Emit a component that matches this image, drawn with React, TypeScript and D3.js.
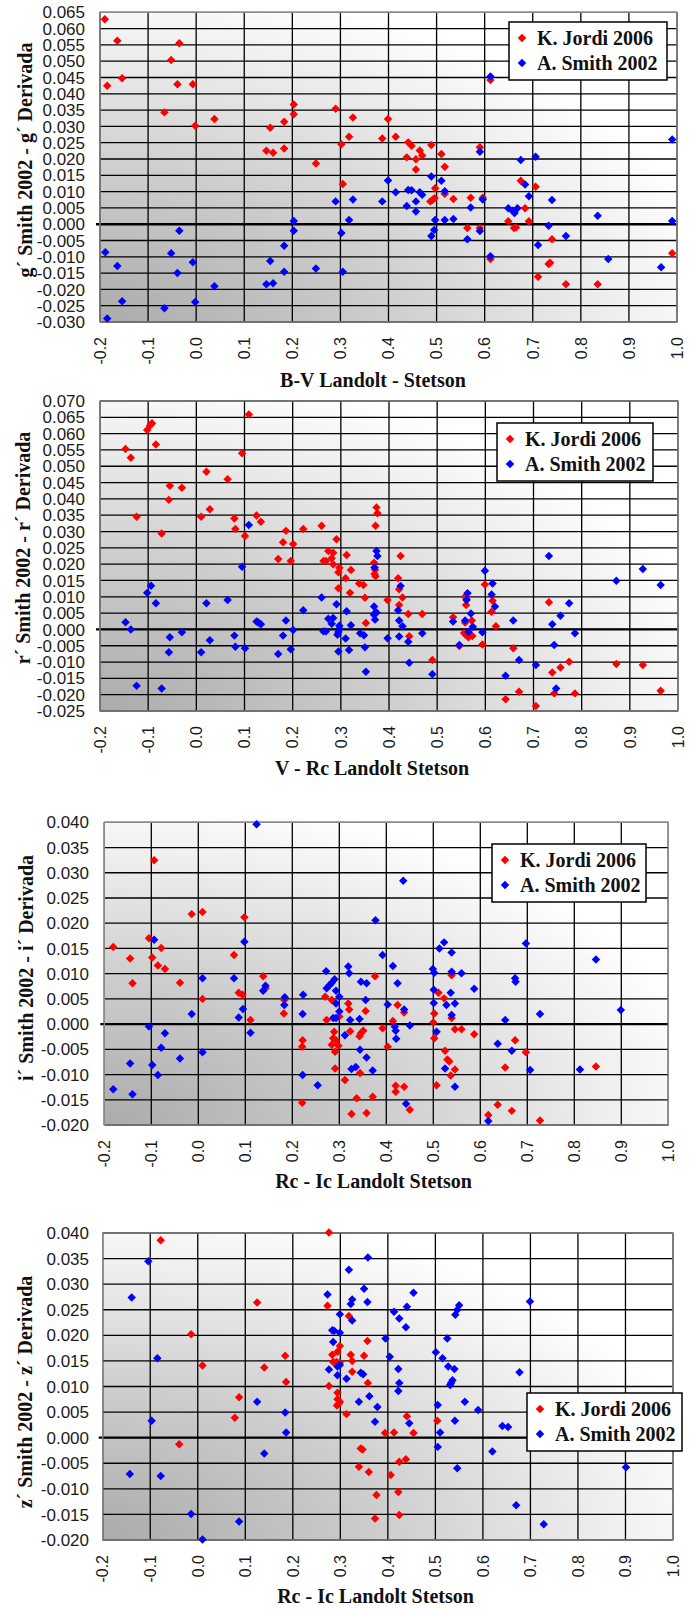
import React from "react";
import * as d3 from "d3";

// ---------- data ----------
const xTickValues = [-0.2, -0.1, 0.0, 0.1, 0.2, 0.3, 0.4, 0.5, 0.6, 0.7, 0.8, 0.9, 1.0];
const seriesNames = ["K. Jordi 2006", "A. Smith 2002"];

const p1Jordi: [number, number][] = [
  [-0.19, 0.0629], [-0.185, 0.0425], [-0.164, 0.0563], [-0.154, 0.0448], [-0.035, 0.0555], [-0.052, 0.0504],
  [-0.039, 0.0429], [-0.007, 0.0429], [-0.066, 0.0343], [-0.002, 0.0302], [0.038, 0.0323], [0.154, 0.0296],
  [0.183, 0.0314], [0.203, 0.0367], [0.203, 0.0337], [0.146, 0.0225], [0.16, 0.0219], [0.183, 0.0232],
  [0.249, 0.0186], [0.29, 0.0354], [0.326, 0.0327], [0.318, 0.0268], [0.302, 0.0245], [0.305, 0.0123],
  [0.399, 0.0323], [0.387, 0.0263], [0.415, 0.0268], [0.441, 0.0251], [0.448, 0.0241], [0.465, 0.0226],
  [0.47, 0.0211], [0.438, 0.0205], [0.457, 0.0199], [0.457, 0.0168], [0.489, 0.0243], [0.51, 0.0215],
  [0.517, 0.0176], [0.497, 0.011], [0.487, 0.007], [0.492, 0.0075], [0.496, 0.008], [0.517, 0.0093],
  [0.535, 0.0077], [0.571, 0.0081], [0.596, 0.0081], [0.59, 0.0236], [0.564, -0.0012], [0.59, -0.0012],
  [0.612, 0.0442], [0.612, -0.0107], [0.649, 0.0009], [0.661, -0.0012], [0.665, -0.001], [0.675, 0.0133],
  [0.684, 0.0049], [0.692, 0.0009], [0.706, 0.0115], [0.74, -0.0046], [0.733, -0.0122], [0.736, -0.0118],
  [0.711, -0.0161], [0.769, -0.0184], [0.835, -0.0184], [0.99, -0.0089],
];
const p1Smith: [number, number][] = [
  [-0.189, -0.0086], [-0.164, -0.0128], [-0.154, -0.0236], [-0.185, -0.0289], [-0.035, -0.002], [-0.052, -0.0089],
  [-0.039, -0.015], [-0.007, -0.0117], [-0.066, -0.0258], [-0.002, -0.0239], [0.038, -0.019], [0.203, 0.001],
  [0.203, -0.002], [0.183, -0.0066], [0.154, -0.0113], [0.146, -0.0184], [0.16, -0.0181], [0.183, -0.0146],
  [0.249, -0.0136], [0.29, 0.007], [0.326, 0.0076], [0.318, 0.0013], [0.302, -0.0027], [0.305, -0.0146],
  [0.399, 0.0134], [0.387, 0.007], [0.415, 0.0098], [0.441, 0.0105], [0.448, 0.0104], [0.465, 0.0098],
  [0.47, 0.009], [0.438, 0.0056], [0.457, 0.007], [0.457, 0.0039], [0.489, 0.0146], [0.51, 0.0133],
  [0.517, 0.0101], [0.497, 0.0013], [0.495, -0.0018], [0.489, -0.0036], [0.517, 0.0013], [0.535, 0.0016],
  [0.571, 0.0051], [0.596, 0.0076], [0.59, 0.0222], [0.564, -0.0046], [0.59, -0.0021], [0.612, 0.0453],
  [0.612, -0.0098], [0.649, 0.0049], [0.658, 0.0041], [0.662, 0.0034], [0.668, 0.0049], [0.675, 0.0197],
  [0.684, 0.0122], [0.692, 0.0086], [0.706, 0.0207], [0.74, 0.0074], [0.733, -0.0005], [0.711, -0.0064],
  [0.769, -0.0036], [0.835, 0.0026], [0.857, -0.0107], [0.967, -0.0132], [0.99, 0.026], [0.99, 0.001],
];

const p2Jordi: [number, number][] = [
  [-0.147, 0.0553], [-0.136, 0.0526], [-0.124, 0.0345], [-0.102, 0.0611], [-0.096, 0.0625], [-0.092, 0.0632],
  [-0.084, 0.0567], [-0.072, 0.0294], [-0.055, 0.044], [-0.057, 0.0397], [-0.03, 0.0434], [0.01, 0.0345],
  [0.021, 0.0483], [0.028, 0.0368], [0.065, 0.046], [0.079, 0.034], [0.081, 0.0308], [0.101, 0.0286],
  [0.095, 0.054], [0.109, 0.0659], [0.125, 0.0349], [0.134, 0.033], [0.17, 0.0216], [0.18, 0.0267],
  [0.186, 0.0302], [0.196, 0.021], [0.201, 0.0262], [0.222, 0.0308], [0.26, 0.0318], [0.264, 0.021],
  [0.269, 0.021], [0.274, 0.024], [0.284, 0.0235], [0.281, 0.0218], [0.284, 0.02], [0.291, 0.0276],
  [0.297, 0.0189], [0.295, 0.0175], [0.312, 0.0228], [0.321, 0.0182], [0.31, 0.0157], [0.295, 0.0126],
  [0.319, 0.0112], [0.338, 0.0141], [0.347, 0.0136], [0.35, 0.0097], [0.374, 0.0374], [0.376, 0.0356],
  [0.372, 0.0318], [0.369, 0.0204], [0.371, 0.0183], [0.37, 0.017], [0.372, 0.0163], [0.397, 0.009],
  [0.352, 0.002], [0.424, 0.0225], [0.419, 0.0157], [0.421, 0.0123], [0.428, 0.0098], [0.421, 0.0075],
  [0.44, 0.0047], [0.469, 0.0047], [0.442, -0.0021], [0.49, -0.0094], [0.533, 0.0037], [0.558, 0.01],
  [0.561, 0.0093], [0.56, 0.0075], [0.558, 0.0021], [0.572, 0.0027], [0.556, -0.0011], [0.56, -0.0018],
  [0.565, -0.0024], [0.573, -0.002], [0.546, -0.0051], [0.599, 0.0138], [0.613, 0.0054], [0.615, 0.0088],
  [0.622, 0.001], [0.594, -0.0046], [0.658, -0.0058], [0.642, -0.0214], [0.67, -0.0191], [0.705, -0.0235],
  [0.732, 0.0083], [0.739, -0.0132], [0.756, -0.0117], [0.743, -0.0196], [0.774, -0.0099], [0.786, -0.0196],
  [0.872, -0.0106], [0.927, -0.0109], [0.964, -0.0188],
];
const p2Smith: [number, number][] = [
  [-0.147, 0.0022], [-0.136, 0.0], [-0.124, -0.0173], [-0.102, 0.0112], [-0.094, 0.0134], [-0.084, 0.008],
  [-0.072, -0.0181], [-0.055, -0.0024], [-0.057, -0.007], [-0.03, -0.0009], [0.01, -0.007], [0.021, 0.008],
  [0.028, -0.0033], [0.065, 0.009], [0.079, -0.0019], [0.081, -0.0053], [0.101, -0.0058], [0.095, 0.0192],
  [0.109, 0.032], [0.125, 0.0024], [0.129, 0.0021], [0.134, 0.0016], [0.17, -0.0075], [0.18, -0.0019],
  [0.186, 0.0027], [0.196, -0.0061], [0.201, -0.0002], [0.222, 0.0059], [0.26, 0.0098], [0.264, -0.0006],
  [0.269, -0.0006], [0.274, 0.0033], [0.284, 0.0035], [0.281, 0.0017], [0.291, 0.0077], [0.297, 0.0002],
  [0.295, -0.0008], [0.293, -0.0016], [0.297, 0.0011], [0.312, 0.0056], [0.321, 0.0013], [0.31, -0.0028],
  [0.295, -0.0068], [0.317, -0.0063], [0.34, -0.0012], [0.348, -0.0018], [0.35, -0.0055], [0.352, -0.013],
  [0.374, 0.024], [0.376, 0.0225], [0.37, 0.019], [0.369, 0.007], [0.371, 0.005], [0.374, 0.0052],
  [0.369, 0.0045], [0.371, 0.003], [0.397, -0.0027], [0.419, 0.0059], [0.421, 0.0027], [0.424, 0.0133],
  [0.428, 0.001], [0.421, -0.0022], [0.44, -0.0038], [0.442, -0.0102], [0.469, -0.0012], [0.49, -0.0137],
  [0.533, 0.0024], [0.563, 0.0111], [0.561, 0.009], [0.57, 0.0049], [0.558, 0.0027], [0.574, 0.0008],
  [0.565, -0.0008], [0.546, -0.0048], [0.599, 0.018], [0.615, 0.0141], [0.613, 0.0107], [0.62, 0.007],
  [0.594, -0.0009], [0.658, 0.0027], [0.642, -0.0142], [0.67, -0.0094], [0.705, -0.0109], [0.732, 0.0225],
  [0.739, 0.0016], [0.756, 0.0042], [0.743, -0.0048], [0.774, 0.008], [0.786, -0.0012], [0.747, -0.0181],
  [0.872, 0.0149], [0.927, 0.0185], [0.964, 0.0136],
];

const p3Jordi: [number, number][] = [
  [-0.181, 0.0153], [-0.145, 0.013], [-0.14, 0.0081], [-0.105, 0.017], [-0.094, 0.0325], [-0.098, 0.0132],
  [-0.086, 0.0116], [-0.079, 0.0151], [-0.071, 0.0109], [-0.039, 0.0082], [-0.014, 0.0218], [0.009, 0.0222],
  [0.009, 0.005], [0.076, 0.0137], [0.086, 0.0062], [0.094, 0.0058], [0.098, 0.0212], [0.111, 0.0008],
  [0.138, 0.0095], [0.143, 0.0071], [0.183, 0.0048], [0.182, 0.0021], [0.222, -0.0032], [0.221, -0.0045],
  [0.221, -0.0156], [0.27, 0.0054], [0.284, 0.0048], [0.273, 0.0008], [0.289, -0.0015], [0.287, -0.0028],
  [0.293, -0.0032], [0.284, -0.0041], [0.298, -0.0043], [0.291, -0.0055], [0.291, -0.0088], [0.3, 0.0015],
  [0.319, 0.0041], [0.321, 0.0029], [0.323, -0.0014], [0.312, -0.0111], [0.346, -0.0018], [0.351, -0.0013],
  [0.343, -0.0024], [0.337, -0.0147], [0.326, -0.0178], [0.358, -0.0176], [0.344, -0.0097], [0.356, 0.0026],
  [0.376, 0.0095], [0.371, -0.0144], [0.392, -0.0008], [0.403, -0.0045], [0.414, 0.0006], [0.424, 0.0038],
  [0.438, 0.0023], [0.42, -0.0122], [0.42, -0.0134], [0.438, -0.0124], [0.45, -0.017], [0.511, 0.0062],
  [0.523, 0.0051], [0.502, 0.0021], [0.5, 0.0003], [0.502, -0.0028], [0.539, 0.0097], [0.539, 0.0012],
  [0.546, -0.001], [0.56, -0.001], [0.587, -0.002], [0.525, -0.0053], [0.53, -0.007], [0.534, -0.0074],
  [0.546, -0.009], [0.537, -0.0102], [0.507, -0.0121], [0.617, -0.018], [0.637, -0.016], [0.667, -0.0172],
  [0.653, -0.0086], [0.674, -0.0032], [0.697, -0.0056], [0.727, -0.0191], [0.846, -0.0084],
];
const p3Smith: [number, number][] = [
  [-0.181, -0.0129], [-0.145, -0.0078], [-0.14, -0.0139], [-0.105, -0.0005], [-0.094, 0.0167], [-0.098, -0.0081],
  [-0.086, -0.0101], [-0.079, -0.0047], [-0.071, -0.0018], [-0.039, -0.0068], [-0.014, 0.002], [0.009, 0.0091],
  [0.009, -0.0056], [0.076, 0.0091], [0.086, 0.0013], [0.095, 0.003], [0.098, 0.0163], [0.111, -0.0017],
  [0.124, 0.0396], [0.138, 0.0066], [0.143, 0.0076], [0.183, 0.0038], [0.184, 0.0053], [0.222, -0.0101],
  [0.222, 0.002], [0.223, 0.0058], [0.254, -0.0121], [0.272, 0.0105], [0.273, 0.0071], [0.279, 0.0077],
  [0.284, 0.0082], [0.29, 0.0089], [0.293, 0.0066], [0.3, 0.0054], [0.293, 0.0041], [0.3, 0.0025],
  [0.287, 0.0012], [0.293, 0.0012], [0.319, 0.0114], [0.321, 0.0101], [0.346, 0.0084], [0.358, 0.0081],
  [0.356, 0.0048], [0.312, -0.0022], [0.323, 0.0008], [0.343, 0.001], [0.344, -0.0051], [0.358, -0.0066],
  [0.326, -0.0089], [0.335, -0.0085], [0.371, -0.0092], [0.377, 0.0206], [0.392, 0.0137], [0.414, 0.0115],
  [0.424, 0.0081], [0.403, 0.0039], [0.438, 0.0029], [0.418, -0.0005], [0.42, -0.0013], [0.421, -0.0029],
  [0.45, -0.0003], [0.436, 0.0284], [0.442, -0.0158], [0.499, 0.0109], [0.502, 0.0102], [0.501, 0.0068],
  [0.501, 0.0042], [0.507, -0.0015], [0.523, 0.0162], [0.513, 0.015], [0.539, 0.0142], [0.539, 0.0104],
  [0.56, 0.0101], [0.537, 0.0062], [0.528, 0.0038], [0.546, 0.0041], [0.539, 0.0018], [0.525, -0.0088],
  [0.546, -0.0124], [0.587, 0.007], [0.617, -0.0192], [0.637, -0.0039], [0.653, 0.0008], [0.667, -0.0053],
  [0.674, 0.0091], [0.675, 0.0084], [0.697, 0.016], [0.706, -0.0091], [0.727, 0.002], [0.812, -0.009],
  [0.846, 0.0128], [0.899, 0.0028],
];

const p4Jordi: [number, number][] = [
  [-0.078, 0.0386], [-0.014, 0.0202], [0.01, 0.0141], [-0.039, -0.0013], [0.125, 0.0264], [0.14, 0.0137],
  [0.087, 0.0079], [0.078, 0.0039], [0.184, 0.016], [0.186, 0.0109], [0.276, 0.0401], [0.273, 0.0258],
  [0.276, 0.0101], [0.318, 0.0238], [0.299, 0.0179], [0.294, 0.0168], [0.283, 0.0162], [0.292, 0.0148],
  [0.285, 0.0148], [0.299, 0.0147], [0.322, 0.0162], [0.325, 0.015], [0.35, 0.016], [0.357, 0.0189],
  [0.325, 0.0129], [0.358, 0.0107], [0.294, 0.0088], [0.294, 0.0075], [0.299, 0.007], [0.293, 0.0063],
  [0.297, 0.0067], [0.313, 0.0046], [0.394, 0.0009], [0.413, 0.001], [0.454, 0.0009], [0.44, 0.0042],
  [0.504, 0.0033], [0.343, -0.0021], [0.347, -0.0023], [0.339, -0.0057], [0.36, -0.0067], [0.424, -0.0047],
  [0.438, -0.0042], [0.406, -0.0073], [0.376, -0.0112], [0.422, -0.0106], [0.373, -0.0158], [0.424, -0.0151],
];
const p4Smith: [number, number][] = [
  [-0.104, 0.0345], [-0.139, 0.0274], [-0.085, 0.0155], [-0.097, 0.0033], [-0.143, -0.0071], [-0.078, -0.0075],
  [-0.014, -0.0149], [0.01, -0.0199], [0.087, -0.0164], [0.125, 0.007], [0.14, -0.0031], [0.184, 0.0049],
  [0.186, 0.001], [0.273, 0.028], [0.276, 0.0133], [0.299, 0.0241], [0.318, 0.0328], [0.358, 0.0352],
  [0.35, 0.0291], [0.325, 0.027], [0.322, 0.0261], [0.357, 0.0265], [0.325, 0.0229], [0.283, 0.021],
  [0.287, 0.0209], [0.299, 0.0205], [0.285, 0.0187], [0.294, 0.0139], [0.299, 0.0142], [0.294, 0.0122],
  [0.313, 0.0115], [0.343, 0.0127], [0.348, 0.0124], [0.339, 0.007], [0.361, 0.0081], [0.378, 0.006],
  [0.373, 0.0031], [0.454, 0.0283], [0.44, 0.0256], [0.413, 0.0246], [0.424, 0.0233], [0.438, 0.0216],
  [0.395, 0.0194], [0.404, 0.0158], [0.422, 0.0134], [0.424, 0.0107], [0.422, 0.0091], [0.445, 0.0028],
  [0.505, 0.0064], [0.501, 0.0167], [0.515, 0.0155], [0.525, 0.0194], [0.527, 0.0139], [0.54, 0.0134],
  [0.531, 0.0103], [0.533, 0.0107], [0.536, 0.0112], [0.542, 0.024], [0.546, 0.025], [0.55, 0.0259],
  [0.541, 0.0033], [0.51, 0.001], [0.505, -0.0018], [0.546, -0.006], [0.562, 0.007], [0.59, 0.0054],
  [0.62, -0.0027], [0.641, 0.0023], [0.653, 0.0021], [0.677, 0.0128], [0.699, 0.0266], [0.67, -0.0132],
  [0.728, -0.0169], [0.901, -0.0058],
];

// ---------- layout ----------
type Cfg = {
  id: string; yMin: number; yMax: number;
  left: number; right: number; top: number; bottom: number;
  yTitle: string; xTitle: string;
  jordi: [number, number][]; smith: [number, number][];
  legend: { x: number; y: number; w: number; h: number };
  yLabelRight: number; yTitleX: number; yTitleCy: number; xTitleCx: number; xTitleY: number;
};

const panels: Cfg[] = [
  {
    id: "g", yMin: -0.03, yMax: 0.065, left: 100, right: 677, top: 12.3, bottom: 322,
    yTitle: "g\u00B4 Smith 2002 - g\u00B4 Derivada", xTitle: "B-V Landolt - Stetson",
    jordi: p1Jordi, smith: p1Smith, legend: { x: 509, y: 22, w: 158, h: 58 },
    yLabelRight: 85, yTitleX: 32, yTitleCy: 160, xTitleCx: 373, xTitleY: 387,
  },
  {
    id: "r", yMin: -0.025, yMax: 0.07, left: 100, right: 678, top: 401, bottom: 711,
    yTitle: "r\u00B4 Smith 2002 - r\u00B4 Derivada", xTitle: "V - Rc Landolt Stetson",
    jordi: p2Jordi, smith: p2Smith, legend: { x: 497, y: 423, w: 156, h: 58 },
    yLabelRight: 85, yTitleX: 30, yTitleCy: 548, xTitleCx: 372, xTitleY: 775,
  },
  {
    id: "i", yMin: -0.02, yMax: 0.04, left: 104.3, right: 668.3, top: 822.3, bottom: 1125,
    yTitle: "i\u00B4 Smith 2002 - i\u00B4 Derivada", xTitle: "Rc - Ic Landolt Stetson",
    jordi: p3Jordi, smith: p3Smith, legend: { x: 492, y: 844, w: 154, h: 58 },
    yLabelRight: 89, yTitleX: 33, yTitleCy: 968, xTitleCx: 373.5, xTitleY: 1188,
  },
  {
    id: "z", yMin: -0.02, yMax: 0.04, left: 102.7, right: 673, top: 1233, bottom: 1540,
    yTitle: "z\u00B4 Smith 2002 - z\u00B4 Derivada", xTitle: "Rc - Ic Landolt Stetson",
    jordi: p4Jordi, smith: p4Smith, legend: { x: 527, y: 1393, w: 155, h: 58 },
    yLabelRight: 89, yTitleX: 32, yTitleCy: 1392, xTitleCx: 375.5, xTitleY: 1603,
  },
];

const locale = d3.formatLocale({ decimal: ".", thousands: ",", grouping: [3], currency: ["", ""], minus: "-" });
const fmtY = locale.format(".3f");
const fmtX = locale.format(".1f");
const markerPath = d3.symbol(d3.symbolSquare, 36)() as string;
const RED = "#ff0000";
const BLUE = "#0000ff";
const SANS = "'Liberation Sans', Arial, sans-serif";
const SERIF = "'Liberation Serif', 'Times New Roman', serif";

function Panel({ c }: { c: Cfg }) {
  const x = d3.scaleLinear().domain([-0.2, 1.0]).range([c.left, c.right]);
  const y = d3.scaleLinear().domain([c.yMin, c.yMax]).range([c.bottom, c.top]);
  const n0 = Math.round(c.yMin / 0.005);
  const n1 = Math.round(c.yMax / 0.005);
  const yTicks = d3.range(n0, n1 + 1).map((i) => (i === 0 ? 0 : i * 0.005));
  const gid = `bg-${c.id}`;
  const w = c.right - c.left;
  const h = c.bottom - c.top;
  const L = c.legend;
  return (
    <g>
      <defs>
        <radialGradient id={gid} cx="0" cy="1" fx="0" fy="1" r="1.1">
          <stop offset="0" stopColor="#ababab" />
          <stop offset="0.45" stopColor="#cecece" />
          <stop offset="0.8" stopColor="#eeeeee" />
          <stop offset="1" stopColor="#ffffff" />
        </radialGradient>
      </defs>
      <rect x={c.left} y={c.top} width={w} height={h} fill={`url(#${gid})`} />
      {yTicks.map((v) => (
        <line key={`h${v}`} x1={c.left} x2={c.right} y1={y(v)} y2={y(v)} stroke="#000" strokeWidth={1.3} />
      ))}
      {xTickValues.map((v) => (
        <line key={`v${v}`} x1={x(v)} x2={x(v)} y1={c.top} y2={c.bottom} stroke="#000" strokeWidth={1.3} />
      ))}
      <line x1={c.left - 4} x2={c.right} y1={y(0)} y2={y(0)} stroke="#000" strokeWidth={2.4} />
      <rect x={c.left} y={c.top} width={w} height={h} fill="none" stroke="#8a8a8a" strokeWidth={1.4} />
      {c.jordi.map((d, i) => (
        <path key={`j${i}`} d={markerPath} fill={RED} transform={`translate(${x(d[0])},${y(d[1])}) rotate(45)`} />
      ))}
      {c.smith.map((d, i) => (
        <path key={`s${i}`} d={markerPath} fill={BLUE} transform={`translate(${x(d[0])},${y(d[1])}) rotate(45)`} />
      ))}
      {yTicks.map((v) => (
        <text key={`yl${v}`} x={c.yLabelRight} y={y(v)} dy="0.36em" textAnchor="end" fontFamily={SANS} fontSize={17} fill="#1a1a1a">
          {fmtY(v)}
        </text>
      ))}
      {xTickValues.map((v) => (
        <text key={`xl${v}`} transform={`translate(${x(v)},${c.bottom + 15}) rotate(-90)`} dy="0.36em" textAnchor="end" fontFamily={SANS} fontSize={16} fill="#1a1a1a">
          {fmtX(v)}
        </text>
      ))}
      <text x={c.xTitleCx} y={c.xTitleY} textAnchor="middle" fontFamily={SERIF} fontWeight="bold" fontSize={20} fill="#111">
        {c.xTitle}
      </text>
      <text transform={`translate(${c.yTitleX},${c.yTitleCy}) rotate(-90)`} textAnchor="middle" fontFamily={SERIF} fontWeight="bold" fontSize={20} fill="#111">
        {c.yTitle}
      </text>
      <g>
        <rect x={L.x} y={L.y} width={L.w} height={L.h} fill="#fff" stroke="#000" strokeWidth={1.5} />
        <path d={markerPath} fill={RED} transform={`translate(${L.x + 13},${L.y + 16}) rotate(45)`} />
        <path d={markerPath} fill={BLUE} transform={`translate(${L.x + 13},${L.y + 41}) rotate(45)`} />
        <text x={L.x + 28} y={L.y + 23} fontFamily={SERIF} fontWeight="bold" fontSize={20} fill="#111">{seriesNames[0]}</text>
        <text x={L.x + 28} y={L.y + 48} fontFamily={SERIF} fontWeight="bold" fontSize={20} fill="#111">{seriesNames[1]}</text>
      </g>
    </g>
  );
}

export default function App() {
  return (
    <div style={{ position: "absolute", left: 0, top: 0 }}>
      <svg width={697} height={1610} viewBox="0 0 697 1610" style={{ display: "block", background: "#fff" }}>
        {panels.map((c) => (
          <Panel key={c.id} c={c} />
        ))}
      </svg>
    </div>
  );
}
